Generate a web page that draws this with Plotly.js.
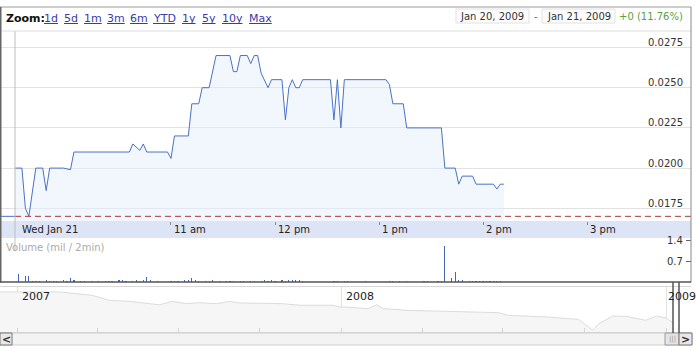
<!DOCTYPE html>
<html><head><meta charset="utf-8">
<script src="https://cdn.plot.ly/plotly-3.0.1.min.js"></script>
<style>html,body{margin:0;padding:0;background:#fff;overflow:hidden}#chart{width:696px;height:351px}</style>
</head><body><div id="chart"></div>
<script>
// ---------- DATA ----------
const day = "2009-01-21";
const priceTimes = ["09:30","09:34","09:36","09:38","09:42","09:46","09:48","09:50","09:58","10:02","10:04","10:36","10:38","10:42","10:44","10:46","10:58","11:00","11:02","11:10","11:12","11:16","11:18","11:22","11:26","11:34","11:36","11:38","11:40","11:44","11:46","11:48","11:50","11:52","11:56","11:58","12:04","12:06","12:08","12:10","12:12","12:14","12:16","12:32","12:34","12:36","12:38","12:40","13:04","13:06","13:08","13:14","13:16","13:36","13:38","13:44","13:46","13:48","13:54","13:56","14:06","14:08","14:10","14:12"];
const prices = [0.0200,0.0200,0.0175,0.0170,0.0200,0.0200,0.0186,0.0200,0.0200,0.0199,0.0210,0.0210,0.0215,0.0211,0.0215,0.0210,0.0210,0.0206,0.0220,0.0220,0.0240,0.0240,0.0250,0.0250,0.0270,0.0270,0.0260,0.0260,0.0270,0.0270,0.0265,0.0270,0.0270,0.0259,0.0250,0.0255,0.0255,0.0230,0.0250,0.0255,0.0250,0.0250,0.0255,0.0255,0.0230,0.0255,0.0225,0.0255,0.0255,0.0252,0.0240,0.0240,0.0225,0.0225,0.0200,0.0200,0.0190,0.0195,0.0195,0.0190,0.0190,0.0187,0.0190,0.0190];
const prevClose = 0.017;
const volTimes = ["09:32","09:36","09:38","09:40","09:42","09:44","09:48","09:50","09:52","09:54","09:58","10:00","10:02","10:04","10:08","10:10","10:14","10:18","10:22","10:24","10:26","10:30","10:32","10:34","10:38","10:40","10:42","10:44","10:46","10:48","10:52","11:00","11:02","11:04","11:08","11:10","11:12","11:14","11:16","11:20","11:22","11:24","11:28","11:32","11:34","11:36","11:40","11:42","11:46","11:48","11:52","11:54","11:56","11:58","12:00","12:04","12:06","12:08","12:10","12:12","12:14","12:16","12:34","12:36","12:40","12:42","12:52","13:06","13:08","13:12","13:16","13:26","13:28","13:34","13:36","13:38","13:42","13:44","13:46","13:48","13:52","13:54","13:56","13:58","14:00","14:02","14:04","14:06","14:08","14:10"];
const volumes = [0.26,0.20,0.20,0.05,0.04,0.05,0.06,0.04,0.03,0.05,0.06,0.04,0.14,0.06,0.04,0.05,0.04,0.05,0.04,0.04,0.05,0.06,0.06,0.04,0.05,0.06,0.05,0.06,0.18,0.06,0.04,0.04,0.05,0.04,0.08,0.06,0.12,0.06,0.04,0.05,0.04,0.06,0.04,0.04,0.05,0.05,0.04,0.05,0.04,0.05,0.05,0.06,0.05,0.06,0.05,0.06,0.05,0.06,0.06,0.08,0.06,0.05,0.04,0.05,0.04,0.04,0.04,0.04,0.05,0.04,0.04,0.04,0.05,0.04,0.05,1.20,0.12,0.34,0.08,0.06,0.05,0.04,0.05,0.04,0.04,0.05,0.04,0.05,0.04,0.04];
const priceTicks = [0.0175,0.0200,0.0225,0.0250,0.0275];
const volTicks = [0.7,1.4];
const hourTicks = ["09:30","11:00","12:00","13:00","14:00","15:00"];
const hourLabels = ["Wed Jan 21","11 am","12 pm","1 pm","2 pm","3 pm"];
const navDates = ["2006-12-12","2007-02-17","2007-03-26","2007-04-14","2007-05-07","2007-06-10","2007-06-24","2007-07-10","2007-07-25","2007-08-13","2007-08-28","2007-09-08","2007-10-26","2007-11-15","2007-12-22","2007-12-30","2008-01-05","2008-01-31","2008-02-10","2008-02-17","2008-03-16","2008-04-27","2008-06-26","2008-07-07","2008-08-18","2008-09-24","2008-10-10","2008-10-17","2008-11-02","2008-11-16","2008-12-09","2008-12-21","2009-01-01","2009-01-10"];
const navValues = [0.178,0.178,0.163,0.141,0.136,0.121,0.136,0.126,0.130,0.126,0.136,0.129,0.126,0.119,0.119,0.111,0.111,0.104,0.121,0.104,0.096,0.092,0.086,0.074,0.067,0.056,0.008,0.037,0.071,0.070,0.052,0.071,0.062,0.037];
const navYears = ["2007-01-01","2008-01-01","2009-01-01"];
const navYearLabels = ["2007","2008","2009"];
const zoomLinks = ["1d","5d","1m","3m","6m","YTD","1y","5y","10y","Max"];
const rangeFrom = "Jan 20, 2009";
const rangeTo = "Jan 21, 2009";
const changeText = "+0 (11.76%)";
const volumeTitle = "Volume (mil / 2min)";

// ---------- LAYOUT HELPERS ----------
const W = 696, H = 351;
const px = x => x / W;
const py = y => 1 - y / H;
const t = s => day + " " + s;
const xStart = t("09:21:21"), xEnd = t("16:00:00");
const plotRight = px(691);
const FONT = "DejaVu Sans, Verdana, sans-serif";
const ctx = document.createElement("canvas").getContext("2d");
ctx.font = "11px 'DejaVu Sans'";
const textW = s => ctx.measureText(s).width;

const traces = [
  { type: "scatter", mode: "lines", x: priceTimes.map(t), y: prices, xaxis: "x", yaxis: "y",
    line: { color: "#4a72c8", width: 1 }, fill: "tozeroy", fillcolor: "rgba(226,234,250,0.45)", hoverinfo: "skip" },
  { type: "bar", x: volTimes.map(t), y: volumes, xaxis: "x2", yaxis: "y2",
    width: 40000, marker: { color: "#4466b4", line: { width: 0 } }, hoverinfo: "skip" },
  { type: "scatter", mode: "lines", x: navDates, y: navValues, xaxis: "x3", yaxis: "y3",
    line: { color: "#dcdcdc", width: 1 }, fill: "tozeroy", fillcolor: "#f6f6f6", hoverinfo: "skip" }
];

const linkX = [44, 64, 84, 107, 130, 153, 182, 202, 222, 249];
const shapes = [
  { type: "rect", xref: "paper", yref: "paper", x0: 0, x1: plotRight, y0: py(238), y1: py(221),
    fillcolor: "#dce4f5", line: { width: 0 }, layer: "below" },
  { type: "line", xref: "x", yref: "y", x0: t("09:30"), x1: xEnd, y0: prevClose, y1: prevClose,
    line: { color: "#a83a3a", width: 1, dash: "6px,4px" } },
  { type: "line", xref: "x", yref: "y", x0: xStart, x1: t("09:30"), y0: prevClose, y1: prevClose,
    line: { color: "#4a72c8", width: 1 } },
  { type: "line", xref: "x", yref: "paper", x0: t("09:30"), x1: t("09:30"), y0: py(251), y1: py(31),
    line: { color: "#bdbdbd", width: 1 } },
  { type: "line", xref: "paper", yref: "paper", x0: 0, x1: plotRight, y0: py(31), y1: py(31), line: { color: "#dddddd", width: 1 } },
  { type: "line", xref: "paper", yref: "paper", x0: 0, x1: plotRight, y0: py(7), y1: py(7), line: { color: "#9a9a9a", width: 1 } },
  { type: "line", xref: "paper", yref: "paper", x0: px(0.75), x1: px(0.75), y0: py(7), y1: py(282.5), line: { color: "#666", width: 1.5 } },
  { type: "line", xref: "paper", yref: "paper", x0: plotRight, x1: plotRight, y0: py(7), y1: py(282.5), line: { color: "#888", width: 1 } },
  { type: "line", xref: "paper", yref: "paper", x0: 0, x1: plotRight, y0: py(282), y1: py(282), line: { color: "#555", width: 1.5 } },
  { type: "rect", xref: "paper", yref: "paper", x0: px(456), x1: px(529), y0: py(23), y1: py(9), fillcolor: "#fcfcfc", line: { color: "#e2e2e2", width: 1 } },
  { type: "rect", xref: "paper", yref: "paper", x0: px(542), x1: px(615), y0: py(23), y1: py(9), fillcolor: "#fcfcfc", line: { color: "#e2e2e2", width: 1 } },
  { type: "rect", xref: "paper", yref: "paper", x0: 0, x1: px(692), y0: py(345), y1: py(333), fillcolor: "#f3f3f3", line: { color: "#cfcfcf", width: 1 } },
  { type: "rect", xref: "paper", yref: "paper", x0: 0, x1: px(12), y0: py(345), y1: py(333), fillcolor: "#e8e8e8", line: { color: "#777", width: 1 } },
  { type: "rect", xref: "paper", yref: "paper", x0: px(665), x1: px(679), y0: py(345), y1: py(333), fillcolor: "#e4e4e4", line: { color: "#9a9a9a", width: 1 } },
  { type: "rect", xref: "paper", yref: "paper", x0: px(679), x1: px(692), y0: py(345), y1: py(333), fillcolor: "#e8e8e8", line: { color: "#777", width: 1 } },
  { type: "line", xref: "paper", yref: "paper", x0: px(673), x1: px(673), y0: py(282), y1: py(333), line: { color: "#555", width: 1.5 } },
  { type: "line", xref: "paper", yref: "paper", x0: px(679), x1: px(679), y0: py(282), y1: py(333), line: { color: "#555", width: 1.5 } },
  // link underlines
  ...zoomLinks.map((s, i) => ({ type: "line", xref: "paper", yref: "paper", x0: px(linkX[i]), x1: px(linkX[i] + textW(s)),
    y0: py(23.5), y1: py(23.5), line: { color: "#3a3aae", width: 1 } }))
];

const annotations = [
  { xref: "paper", yref: "paper", x: px(4), y: py(19), xanchor: "left", yanchor: "middle", showarrow: false,
    text: "<b>Zoom:</b>", font: { family: FONT, size: 11, color: "#111" } },
  ...zoomLinks.map((s, i) => ({ xref: "paper", yref: "paper", x: px(linkX[i] - 2), y: py(18.5), xanchor: "left", yanchor: "middle",
    showarrow: false, text: s, font: { family: FONT, size: 11, color: "#3a3aae" } })),
  { xref: "paper", yref: "paper", x: px(492.5), y: py(16), xanchor: "center", yanchor: "middle", showarrow: false, text: rangeFrom, font: { family: FONT, size: 10, color: "#333" } },
  { xref: "paper", yref: "paper", x: px(535.5), y: py(16), xanchor: "center", yanchor: "middle", showarrow: false, text: "-", font: { family: FONT, size: 10, color: "#666" } },
  { xref: "paper", yref: "paper", x: px(578.5), y: py(16), xanchor: "center", yanchor: "middle", showarrow: false, text: rangeTo, font: { family: FONT, size: 10, color: "#333" } },
  { xref: "paper", yref: "paper", x: px(617), y: py(16), xanchor: "left", yanchor: "middle", showarrow: false, text: changeText, font: { family: FONT, size: 10, color: "#5f9e3e" } },
  ...hourTicks.map((h, i) => ({ xref: "x", yref: "paper", x: t(h), y: py(229.5), xanchor: "left", yanchor: "middle", xshift: i === 0 ? 5 : 1,
    showarrow: false, text: hourLabels[i], font: { family: FONT, size: 10, color: "#222" } })),
  { xref: "paper", yref: "paper", x: px(4), y: py(247), xanchor: "left", yanchor: "middle", showarrow: false, text: volumeTitle, font: { family: FONT, size: 10, color: "#aaaaaa" } },
  ...volTicks.map(v => ({ xref: "paper", yref: "y2", x: px(685), y: v, xanchor: "right", yanchor: "middle", showarrow: false,
    text: String(v), font: { family: FONT, size: 10, color: "#333" } })),
  ...navYears.map((d, i) => ({ xref: "x3", yref: "paper", x: d, y: py(296), xanchor: "left", yanchor: "middle", xshift: i === 2 ? 0 : 2,
    showarrow: false, text: navYearLabels[i], font: { family: FONT, size: 11, color: "#222" } })),
  { xref: "paper", yref: "paper", x: px(6), y: py(339), xanchor: "center", yanchor: "middle", showarrow: false, text: "<b>&lt;</b>", font: { family: FONT, size: 11, color: "#333" } },
  { xref: "paper", yref: "paper", x: px(685.5), y: py(339), xanchor: "center", yanchor: "middle", showarrow: false, text: "<b>&gt;</b>", font: { family: FONT, size: 11, color: "#333" } },
  { xref: "paper", yref: "paper", x: px(672), y: py(339), xanchor: "center", yanchor: "middle", showarrow: false, text: "|||", font: { family: FONT, size: 7, color: "#999" } }
];

const layout = {
  width: W, height: H, margin: { l: 0, r: 0, t: 0, b: 0 },
  paper_bgcolor: "#fff", plot_bgcolor: "#fff", showlegend: false,
  font: { family: FONT, size: 10, color: "#333" },
  xaxis: { domain: [0, plotRight], type: "date", range: [xStart, xEnd], anchor: "y",
    tickvals: hourTicks.slice(1).map(t), ticks: "outside", ticklen: 3, tickcolor: "#8a8a8a",
    showticklabels: false, showgrid: false, zeroline: false, showline: false, fixedrange: true },
  yaxis: { domain: [py(221), py(31)], range: [0.01671, 0.028526], side: "right", anchor: "x",
    tickvals: priceTicks, tickformat: ".4f", ticks: "", ticklabelposition: "inside",
    ticklabelshift: -5, ticklabelstandoff: 5,
    tickfont: { family: FONT, size: 10, color: "#333" },
    showgrid: true, gridcolor: "#e2e2e2", gridwidth: 1, zeroline: false, showline: false, fixedrange: true },
  xaxis2: { domain: [0, plotRight], type: "date", range: [xStart, xEnd], anchor: "y2",
    showticklabels: false, showgrid: false, zeroline: false, showline: false, ticks: "" },
  yaxis2: { domain: [py(282), py(238)], range: [0, 1.4667], side: "right", anchor: "x2",
    tickvals: volTicks, ticks: "inside", ticklen: 5, tickcolor: "#666", showticklabels: false,
    showgrid: false, zeroline: false, showline: false },
  xaxis3: { domain: [0, plotRight], type: "date", range: ["2006-12-12", "2009-01-29"], anchor: "y3",
    tickvals: navYears, showticklabels: false, showgrid: true, gridcolor: "#e3e3e3", ticks: "",
    minor: { dtick: "M3", ticks: "inside", ticklen: 4, tickcolor: "#d5d5d5", showgrid: false },
    showline: true, mirror: true, linecolor: "#d8d8d8", zeroline: false },
  yaxis3: { domain: [py(332), py(287)], range: [0, 0.2], anchor: "x3", visible: false },
  shapes: shapes, annotations: annotations, bargap: 0
};

Plotly.newPlot("chart", traces, layout, { staticPlot: true, displayModeBar: false });
</script>
</body></html>
